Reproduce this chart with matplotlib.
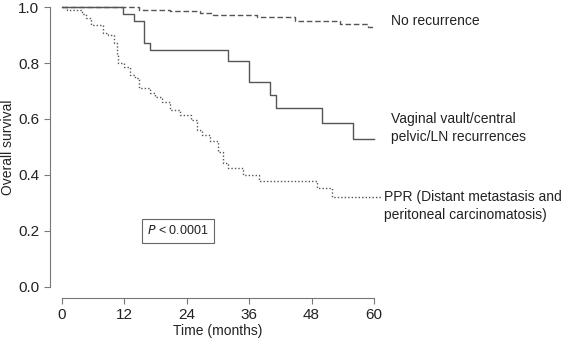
import matplotlib
matplotlib.use("Agg")
import matplotlib.pyplot as plt

plt.rcParams['font.family'] = ['Liberation Sans', 'DejaVu Sans']

# Kaplan-Meier steps (months, survival)
t_none = [0, 14.8, 20.8, 26.5, 29, 37.5, 44.8, 53.5, 58.8, 60]
s_none = [1.0, 0.99, 0.986, 0.977, 0.971, 0.963, 0.951, 0.939, 0.93, 0.93]

t_vault = [0, 11.8, 13.8, 15.8, 16.9, 32, 36, 40, 41.1, 50, 56, 60]
s_vault = [1.0, 0.975, 0.95, 0.872, 0.846, 0.808, 0.733, 0.686, 0.64, 0.587, 0.527, 0.527]

t_ppr = [0, 1, 3.8, 4.7, 5.6, 7.9, 8.8, 10, 10.5, 10.8, 11.9, 13.1, 14, 14.9, 16.9,
         17.9, 19.2, 20.8, 22.7, 24.9, 25.9, 26.9, 28.5, 30, 31, 31.9, 34.8, 37.9,
         49, 52, 61.3]
s_ppr = [1.0, 0.99, 0.975, 0.96, 0.936, 0.906, 0.9, 0.87, 0.83, 0.80, 0.786, 0.757,
         0.746, 0.71, 0.693, 0.679, 0.662, 0.632, 0.614, 0.596, 0.561, 0.543, 0.523,
         0.483, 0.443, 0.425, 0.40, 0.38, 0.352, 0.32, 0.32]

labels = ['No recurrence',
          'Vaginal vault/central\npelvic/LN recurrences',
          'PPR (Distant metastasis and\nperitoneal carcinomatosis)']
label_x = [63.3, 63.3, 61.9]
label_y = [0.95, 0.568, 0.289]
xticks = [0, 12, 24, 36, 48, 60]
yticks = [0.0, 0.2, 0.4, 0.6, 0.8, 1.0]

gray = '#555555'
fig = plt.figure(figsize=(5.62, 3.41), dpi=100)
ax = fig.add_axes([0.0881, 0.1261, 0.5996, 0.886])

ax.step(t_none, s_none, where='post', color=gray, lw=1, ls=(0, (4, 2)), clip_on=False)
ax.step(t_ppr, s_ppr, where='post', color=gray, lw=1, ls=(0, (1, 1.5)), clip_on=False)
ax.step(t_vault, s_vault, where='post', color=gray, lw=1, clip_on=False)

ax.set_xlim(-2.4, 62.4)
ax.set_ylim(-0.04, 1.04)
ax.set_xticks(xticks)
ax.set_yticks(yticks)
ax.set_yticklabels(['%.1f' % v for v in yticks])
for s in ['top', 'right']:
    ax.spines[s].set_visible(False)
ax.spines['left'].set_bounds(0, 1)
ax.spines['bottom'].set_bounds(0, 60)
for s in ['left', 'bottom']:
    ax.spines[s].set_color('#777777')
ax.tick_params(length=4, color='#777777', labelsize=11, colors='#222222')
ax.set_xlabel('Time (months)', fontsize=10, color='#222222', labelpad=1)
ax.set_ylabel('Overall survival', fontsize=10, color='#222222', labelpad=2)

for lab, x, y in zip(labels, label_x, label_y):
    ax.text(x, y, lab, fontsize=10, va='center', ha='left', color='#222222',
            linespacing=1.3, clip_on=False)

ax.text(22.3, 0.2, r'$\it{P}$ < 0.0001', fontsize=9, ha='center', va='center',
        color='#222222',
        bbox=dict(boxstyle='square,pad=0.45', fc='white', ec='#666666', lw=0.8))

fig.savefig('out.png', dpi=100)
